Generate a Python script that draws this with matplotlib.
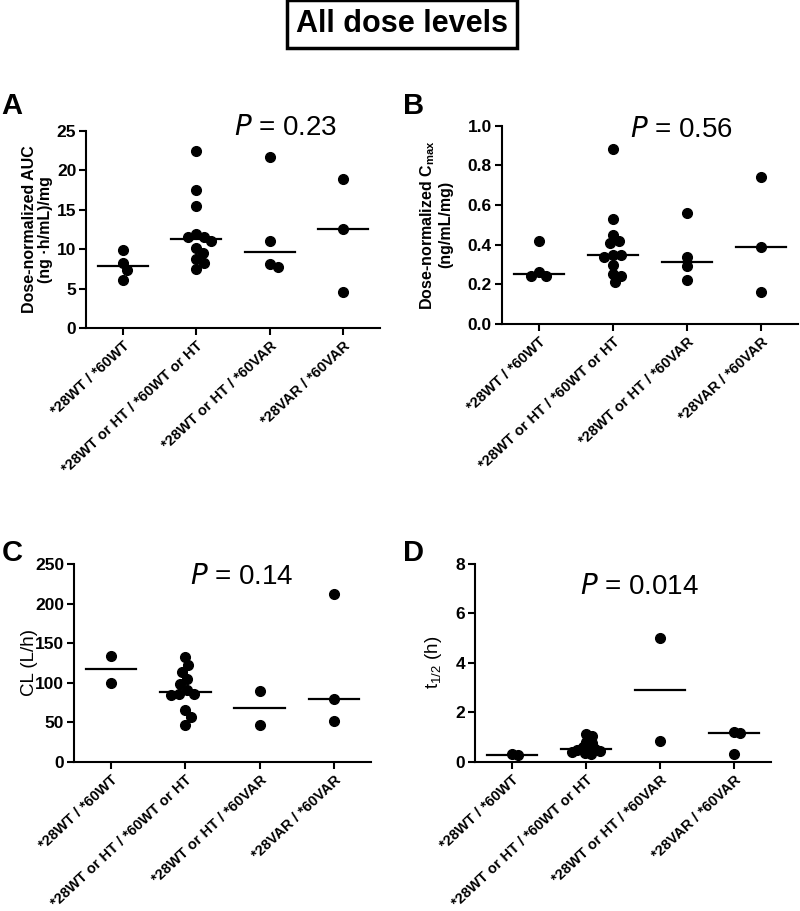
import matplotlib.pyplot as plt
import numpy as np

plt.rcParams['font.family'] = ['Liberation Sans', 'DejaVu Sans']

# ---------------- data ----------------
groups = ['*28WT / *60WT', '*28WT or HT / *60WT or HT',
          '*28WT or HT / *60VAR', '*28VAR / *60VAR']

auc = [[9.9, 8.3, 7.4, 6.1],
       [22.4, 17.5, 15.5, 11.9, 11.6, 11.6, 11.0, 10.2, 9.5, 8.7, 8.2, 7.5],
       [21.7, 11.1, 8.1, 7.7],
       [18.9, 12.6, 4.6]]
cmax = [[0.42, 0.26, 0.24, 0.24],
        [0.88, 0.53, 0.45, 0.42, 0.41, 0.35, 0.35, 0.34, 0.30, 0.25, 0.24, 0.21],
        [0.56, 0.34, 0.29, 0.22],
        [0.74, 0.39, 0.16]]
cl = [[134, 100],
      [132, 122, 114, 105, 98, 91, 86, 85, 84, 65, 57, 47],
      [90, 46],
      [212, 79, 52]]
thalf = [[0.31, 0.26],
         [1.14, 1.06, 0.78, 0.77, 0.58, 0.52, 0.50, 0.46, 0.42, 0.38, 0.34, 0.30],
         [5.0, 0.83],
         [1.2, 1.17, 0.31]]

p_values = ['0.23', '0.56', '0.14', '0.014']


def swarm_offsets(ax, i, vals, diam_px, frac=0.85):
    # simple beeswarm: push points sideways until they stop overlapping
    pts = ax.transData.transform(np.column_stack([np.full(len(vals), i), vals]))
    placed = []
    xs = []
    dmin = diam_px * frac
    for x0, y0 in pts:
        off = 0.0
        for k in range(200):
            cand = (k + 1) // 2 * 0.5 * (1 if k % 2 else -1) if k else 0.0
            ok = all((x0 + cand - px) ** 2 + (y0 - py) ** 2 >= dmin ** 2
                     for px, py in placed)
            if ok:
                off = cand
                break
        placed.append((x0 + off, y0))
        xs.append(x0 + off)
    inv = ax.transData.inverted()
    return inv.transform(np.column_stack([xs, pts[:, 1]]))[:, 0]


def panel(rect, data, ylim, yticks, yfmt, ylabel, label_bold, label_size, label_x,
          letter, letter_xy, ptxt_xy, frac=0.85):
    ax = fig.add_axes(rect)
    ax.set_xlim(-0.5, 3.5)
    ax.set_ylim(*ylim)
    ax.set_yticks(yticks)
    ax.set_yticklabels([yfmt % t for t in yticks], fontsize=12.5, fontweight='bold')
    ax.set_xticks(range(len(groups)))
    ax.set_xticklabels(groups, rotation=43, ha='right', rotation_mode='anchor',
                       fontsize=10.5, fontweight='bold')
    for s in ['top', 'right']:
        ax.spines[s].set_visible(False)
    for s in ['left', 'bottom']:
        ax.spines[s].set_linewidth(1.5)
    ax.tick_params(direction='out', length=5, width=1.5, pad=2)
    ax.tick_params(axis='x', pad=3)
    ms = 7
    diam = ms * fig.dpi / 72
    for i, vals in enumerate(data):
        xs = swarm_offsets(ax, i, vals, diam, frac)
        ax.plot(xs, vals, 'o', color='black', ms=ms, clip_on=False)
        med = np.median(vals)
        ax.plot([i - 0.34, i + 0.34], [med, med], color='black', lw=1.6)
    ax.set_ylabel(ylabel, fontsize=label_size,
                  fontweight='bold' if label_bold else 'normal', linespacing=1.1)
    ax.yaxis.set_label_coords(label_x, 0.5)
    ax.text(ptxt_xy[0], ptxt_xy[1], '$P$ = ' + p_values['ABCD'.index(letter)],
            transform=ax.transAxes, fontsize=20, ha='center', va='center')
    fig.text(letter_xy[0] / 800, 1 - letter_xy[1] / 911, letter, fontsize=21,
             fontweight='bold', ha='center', va='center')
    return ax


fig = plt.figure(figsize=(8, 9.11), dpi=100)

fig.text(401.7 / 800, 1 - 24 / 911, 'All dose levels', fontsize=22, fontweight='bold',
         ha='center', va='center',
         bbox=dict(boxstyle='square,pad=0.3', fc='white', ec='black', lw=2.5))

panel([86 / 800, 1 - 328 / 911, 294 / 800, 197 / 911], auc, (0, 25), range(0, 26, 5),
      '%d', 'Dose-normalized AUC\n(ng \u00b7h/mL)/mg', True, 11.5, -0.112,
      'A', (12, 106), (0.68, 1.015))
panel([501.7 / 800, 1 - 324 / 911, 296 / 800, 198.3 / 911], cmax, (0, 1.0),
      np.arange(0, 1.01, 0.2), '%.1f',
      'Dose-normalized C$_{\\mathregular{max}}$\n(ng/mL/mg)', True, 11.5, -0.165,
      'B', (414, 106), (0.606, 0.976))
panel([74 / 800, 1 - 761.7 / 911, 297 / 800, 197.7 / 911], cl, (0, 250),
      range(0, 251, 50), '%d', 'CL (L/h)', False, 13.5, -0.122,
      'C', (12, 553), (0.564, 0.932))
panel([475 / 800, 1 - 761.7 / 911, 296 / 800, 197.7 / 911], thalf, (0, 8),
      range(0, 9, 2), '%d', 't$_{\\mathregular{1/2}}$ (h)', False, 13.5, -0.105,
      'D', (414, 553), (0.557, 0.884), frac=0.6)

fig.savefig('out.png', dpi=100)
